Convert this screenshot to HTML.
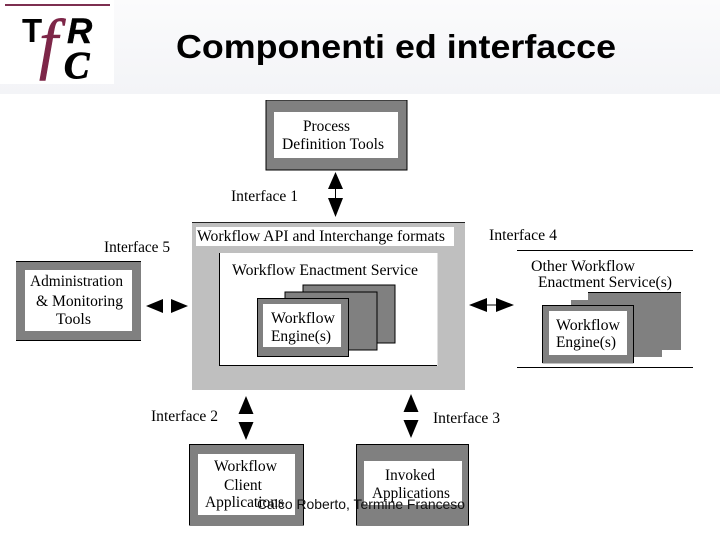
<!DOCTYPE html>
<html><head><meta charset="utf-8"><style>
html,body{margin:0;padding:0;background:#fff}
svg{display:block}
.s{font-family:"Liberation Serif",serif;font-size:15.5px;fill:#000}
</style></head><body>
<svg width="720" height="540" viewBox="0 0 720 540" xmlns="http://www.w3.org/2000/svg">
<defs><linearGradient id="g" x1="0" y1="0" x2="0" y2="1"><stop offset="0" stop-color="#fbfbfc"/><stop offset="1" stop-color="#f3f4f7"/></linearGradient>
<filter id="b" x="0" y="0" width="100%" height="100%" color-interpolation-filters="sRGB"><feGaussianBlur stdDeviation="0.3"/></filter></defs>
<rect width="720" height="540" fill="#fff"/>
<rect width="720" height="94" fill="url(#g)"/>
<rect width="114" height="84" fill="#fff"/>
<g filter="url(#b)">
<rect x="5" y="4" width="105" height="2" fill="#7d2f50"/>
<text x="22" y="42" font-family="Liberation Sans,sans-serif" font-weight="700" font-size="33" fill="#000">T</text>
<text x="39" y="66" font-family="Liberation Serif,serif" font-style="italic" font-size="68" fill="#7d2648" stroke="#7d2648" stroke-width=".6">f</text>
<text x="67" y="43" font-family="Liberation Sans,sans-serif" font-weight="700" font-style="italic" font-size="35" fill="#000" stroke="#000" stroke-width=".4">R</text>
<text x="64" y="78" font-family="Liberation Serif,serif" font-weight="700" font-style="italic" font-size="38" fill="#000" stroke="#000" stroke-width="1">C</text>
</g>
<text x="176" y="58" font-family="Liberation Sans,sans-serif" font-size="33" font-weight="700" fill="#000" textLength="440" lengthAdjust="spacingAndGlyphs">Componenti ed interfacce</text>

<g filter="url(#b)">
<rect x="266" y="100" width="141" height="70" fill="#808080" stroke="#000"/>
<rect x="274" y="112" width="124" height="46" fill="#fff"/>
<text class="s" x="303" y="131" textLength="47" lengthAdjust="spacingAndGlyphs">Process</text>
<text class="s" x="282" y="149" textLength="102" lengthAdjust="spacingAndGlyphs">Definition Tools</text>

<path d="M335.500 172 343 189H328ZM335.500 217 343 198H328Z" fill="#000"/><path d="M335.500 188V199" stroke="#000"/>
<text class="s" x="231" y="201" textLength="67" lengthAdjust="spacingAndGlyphs">Interface 1</text>

<rect x="192" y="222" width="273" height="168" fill="#bfbfbf"/>
<path d="M192 222.500H465" stroke="#222"/>
<rect x="196" y="227" width="258" height="19" fill="#fff"/>
<text class="s" x="197" y="241" textLength="248" lengthAdjust="spacingAndGlyphs">Workflow API and Interchange formats</text>
<rect x="219.500" y="253" width="218" height="113" fill="#fff"/>
<path d="M219.500 253V365.500H437" fill="none" stroke="#000"/>
<text class="s" x="232" y="275" textLength="186" lengthAdjust="spacingAndGlyphs">Workflow Enactment Service</text>
<rect x="303" y="285" width="92" height="58" fill="#808080" stroke="#000"/>
<rect x="285" y="292" width="92" height="58" fill="#808080" stroke="#000"/>
<rect x="257.500" y="298.500" width="91" height="58" fill="#808080" stroke="#000"/>
<rect x="263" y="304" width="78" height="43" fill="#fff"/>
<text class="s" x="271" y="323" textLength="64" lengthAdjust="spacingAndGlyphs">Workflow</text>
<text class="s" x="271" y="341" textLength="60" lengthAdjust="spacingAndGlyphs">Engine(s)</text>

<text class="s" x="489" y="240" textLength="68" lengthAdjust="spacingAndGlyphs">Interface 4</text>
<path d="M517 250.500H693M517 367.500H693" stroke="#000"/>
<text class="s" x="531" y="271" textLength="104" lengthAdjust="spacingAndGlyphs">Other Workflow</text>
<text class="s" x="538" y="287" textLength="134" lengthAdjust="spacingAndGlyphs">Enactment Service(s)</text>
<rect x="588" y="292" width="93" height="58" fill="#808080"/>
<path d="M588 292.500H681" stroke="#000"/>
<rect x="571" y="300" width="91" height="57" fill="#808080"/>
<rect x="542.500" y="305.500" width="91" height="58" fill="#808080"/>
<path d="M542.500 363V305.500H633.500V363" fill="none" stroke="#000"/>
<rect x="549" y="311" width="78" height="44" fill="#fff"/>
<text class="s" x="556" y="330" textLength="64" lengthAdjust="spacingAndGlyphs">Workflow</text>
<text class="s" x="556" y="347" textLength="60" lengthAdjust="spacingAndGlyphs">Engine(s)</text>

<path d="M469 305 487 298V312ZM514 305 496 298V312Z" fill="#000"/><path d="M486 305H497" stroke="#000"/>

<text class="s" x="104" y="252" textLength="66" lengthAdjust="spacingAndGlyphs">Interface 5</text>
<rect x="16" y="261" width="125" height="80" fill="#808080"/>
<path d="M16 261.500H141M16 340.500H141" stroke="#000"/>
<rect x="25" y="270" width="107" height="61" fill="#fff"/>
<text class="s" x="30" y="286" textLength="93" lengthAdjust="spacingAndGlyphs">Administration</text>
<text class="s" x="36" y="306" textLength="87" lengthAdjust="spacingAndGlyphs">&amp; Monitoring</text>
<text class="s" x="56" y="324" textLength="35" lengthAdjust="spacingAndGlyphs">Tools</text>
<path d="M146 306 163 299V313ZM188 306 171 299V313Z" fill="#000"/>

<path d="M246 396 253.500 414H238.500ZM246 440 253.500 422H238.500Z" fill="#000"/>
<path d="M411 394 418.500 412H403.500ZM411 438 418.500 420H403.500Z" fill="#000"/>
<text class="s" x="151" y="421" textLength="67" lengthAdjust="spacingAndGlyphs">Interface 2</text>
<text class="s" x="433" y="423" textLength="67" lengthAdjust="spacingAndGlyphs">Interface 3</text>

<rect x="189.500" y="444.500" width="114" height="81" fill="#808080" stroke="#000"/>
<rect x="198" y="454" width="97" height="61" fill="#fff"/>
<text class="s" x="214" y="471" textLength="63" lengthAdjust="spacingAndGlyphs">Workflow</text>
<text class="s" x="224" y="490" textLength="38" lengthAdjust="spacingAndGlyphs">Client</text>
<text class="s" x="205" y="507" textLength="79" lengthAdjust="spacingAndGlyphs">Applications</text>

<rect x="356.500" y="444.500" width="112" height="81" fill="#808080" stroke="#000"/>
<rect x="364" y="461" width="98" height="44" fill="#fff"/>
<text class="s" x="385" y="480" textLength="50" lengthAdjust="spacingAndGlyphs">Invoked</text>
<text class="s" x="372" y="498" textLength="78" lengthAdjust="spacingAndGlyphs">Applications</text>
</g>
<text x="257" y="509" font-family="Liberation Sans,sans-serif" font-size="14" fill="#111" textLength="208" lengthAdjust="spacingAndGlyphs">Calco Roberto, Termine Franceso</text>
</svg>
</body></html>
